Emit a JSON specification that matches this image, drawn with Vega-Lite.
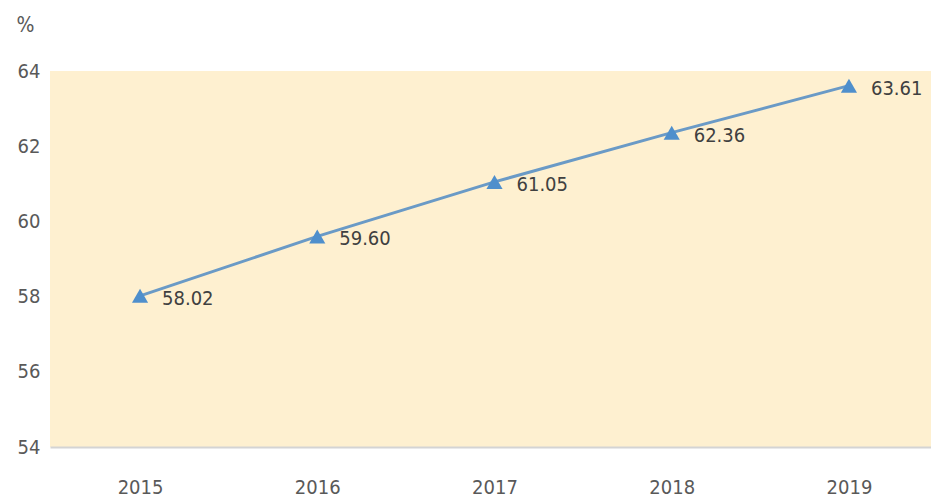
{
  "$schema": "https://vega.github.io/schema/vega-lite/v6.json",
  "autosize": {"type": "none"},
  "padding": {"left": 50, "top": 71, "right": 0, "bottom": 57},
  "width": 881,
  "height": 376,
  "background": "#ffffff",
  "config": {
    "view": {"fill": "#FEF0D0", "stroke": null},
    "font": "DejaVu Sans Condensed, Liberation Sans, sans-serif"
  },
  "data": {
    "values": [
      {"year": 2015, "value": 58.02, "label": "58.02"},
      {"year": 2016, "value": 59.60, "label": "59.60"},
      {"year": 2017, "value": 61.05, "label": "61.05"},
      {"year": 2018, "value": 62.36, "label": "62.36"},
      {"year": 2019, "value": 63.61, "label": "63.61"}
    ]
  },
  "encoding": {
    "x": {
      "field": "year", "type": "quantitative",
      "scale": {"domain": [2014.492, 2019.463], "nice": false, "zero": false},
      "axis": {
        "title": null, "labelAngle": 0, "ticks": false, "grid": false,
        "values": [2015, 2016, 2017, 2018, 2019], "format": "d",
        "domainColor": "#D4D4D4", "domainWidth": 2,
        "labelFont": "DejaVu Sans Condensed, Liberation Sans, sans-serif", "labelFontSize": 20,
        "labelColor": "#595959", "labelPadding": 30, "labelFlush": false
      }
    },
    "y": {
      "field": "value", "type": "quantitative",
      "scale": {"domain": [54, 64], "nice": false, "zero": false},
      "axis": {
        "values": [54, 56, 58, 60, 62, 64],
        "grid": false, "ticks": false, "domain": false,
        "labelFont": "DejaVu Sans Condensed, Liberation Sans, sans-serif", "labelFontSize": 20,
        "labelColor": "#595959", "labelPadding": 10,
        "title": "%", "titleAngle": 0, "titleX": -25, "titleY": -46,
        "titleFont": "DejaVu Sans Condensed, Liberation Sans, sans-serif", "titleFontSize": 21,
        "titleFontWeight": "normal", "titleColor": "#595959",
        "titleAlign": "center", "titleBaseline": "middle"
      }
    }
  },
  "layer": [
    {"mark": {"type": "line", "color": "#6A9AC6", "strokeWidth": 3}},
    {"mark": {"type": "point", "shape": "triangle-up", "filled": true, "opacity": 1, "size": 260, "color": "#4F8FCC"}},
    {
      "mark": {"type": "text", "align": "left", "baseline": "middle", "dx": 22, "dy": 3, "fontSize": 20, "color": "#404040", "font": "DejaVu Sans Condensed, Liberation Sans, sans-serif"},
      "encoding": {"text": {"field": "label"}}
    }
  ]
}
